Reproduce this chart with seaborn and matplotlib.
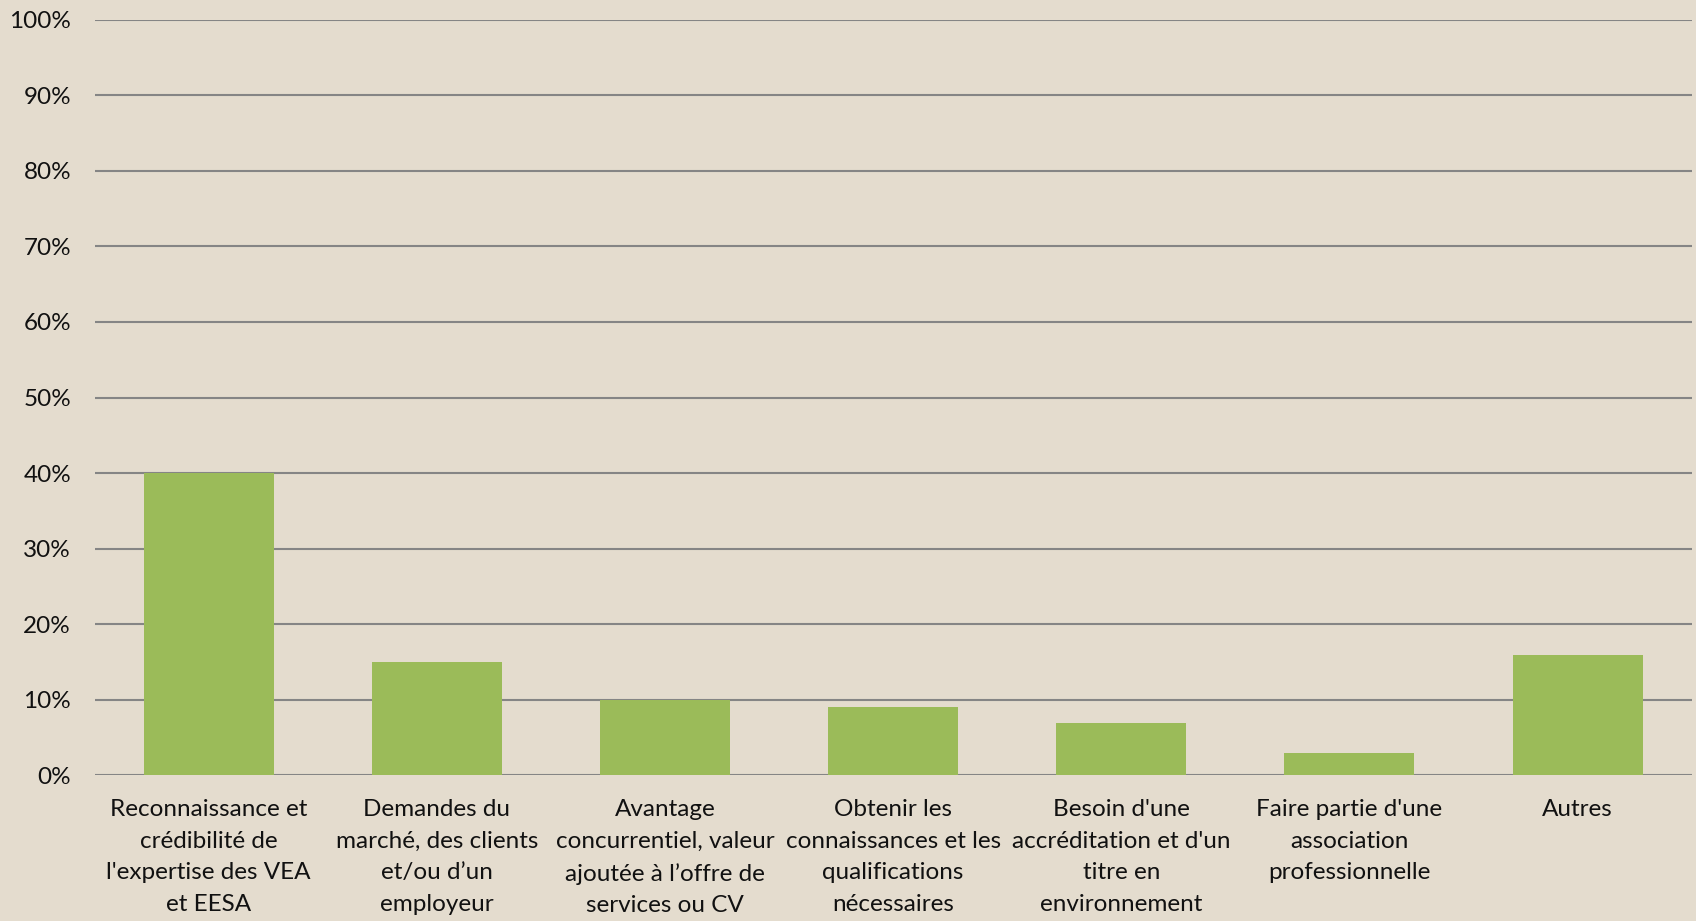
import pandas as pd
import seaborn as sns
import matplotlib.pyplot as plt
from matplotlib.ticker import PercentFormatter

categories = [
    "Reconnaissance et\ncrédibilité de\nl'expertise des VEA\net EESA",
    "Demandes du\nmarché, des clients\net/ou d’un\nemployeur",
    "Avantage\nconcurrentiel, valeur\najoutée à l’offre de\nservices ou CV",
    "Obtenir les\nconnaissances et les\nqualifications\nnécessaires",
    "Besoin d'une\naccréditation et d'un\ntitre en\nenvironnement",
    "Faire partie d'une\nassociation\nprofessionnelle",
    "Autres",
]
values = [40, 15, 10, 9, 7, 3, 16]
yticks = [0, 10, 20, 30, 40, 50, 60, 70, 80, 90, 100]

bg = "#E4DCCE"
plt.rcParams['font.family'] = ['Lato', 'DejaVu Sans']

df = pd.DataFrame({"cat": categories, "val": values})

fig = plt.figure(figsize=(16.96, 9.21), dpi=100, facecolor=bg)
ax = fig.add_axes([0.0558, 0.158, 0.9416, 0.8208])
ax.set_facecolor(bg)

sns.barplot(data=df, x="cat", y="val", color="#9BBB59", width=0.57,
            saturation=1, ax=ax, zorder=3)

ax.set_ylim(0, 100)
ax.set_xlim(-0.5, len(categories) - 0.5)
ax.set_yticks(yticks)
ax.yaxis.set_major_formatter(PercentFormatter(decimals=0))
ax.grid(axis="y", color="#858585", linewidth=1.5, zorder=1)
ax.set_axisbelow(True)
for s in ax.spines.values():
    s.set_visible(False)
ax.set_xlabel("")
ax.set_ylabel("")
ax.tick_params(axis="both", length=0, labelsize=17.5, colors="#111111")
ax.tick_params(axis="y", pad=17)
ax.tick_params(axis="x", pad=17)
for lab in ax.get_xticklabels():
    lab.set_multialignment("center")
    lab.set_linespacing(1.62)

fig.savefig("out.png", dpi=100, facecolor=bg)
